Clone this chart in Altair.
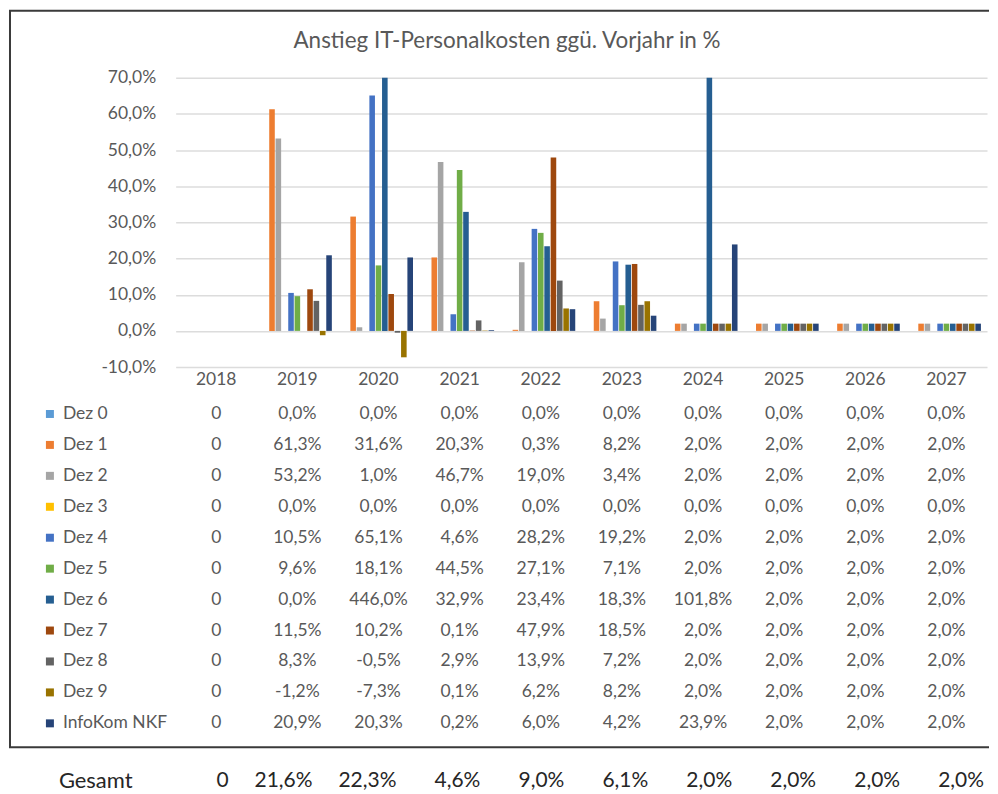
import altair as alt
import pandas as pd

FONT = "Lato"

years = ["2018", "2019", "2020", "2021", "2022", "2023", "2024", "2025", "2026", "2027"]
series = ["Dez 0", "Dez 1", "Dez 2", "Dez 3", "Dez 4", "Dez 5", "Dez 6",
          "Dez 7", "Dez 8", "Dez 9", "InfoKom NKF"]
colors = ["#5B9BD5", "#ED7D31", "#A5A5A5", "#FFC000", "#4472C4", "#70AD47",
          "#255E91", "#9E480E", "#636363", "#997300", "#264478"]

dez0 = [0, 0.0, 0.0, 0.0, 0.0, 0.0, 0.0, 0.0, 0.0, 0.0]
dez1 = [0, 61.3, 31.6, 20.3, 0.3, 8.2, 2.0, 2.0, 2.0, 2.0]
dez2 = [0, 53.2, 1.0, 46.7, 19.0, 3.4, 2.0, 2.0, 2.0, 2.0]
dez3 = [0, 0.0, 0.0, 0.0, 0.0, 0.0, 0.0, 0.0, 0.0, 0.0]
dez4 = [0, 10.5, 65.1, 4.6, 28.2, 19.2, 2.0, 2.0, 2.0, 2.0]
dez5 = [0, 9.6, 18.1, 44.5, 27.1, 7.1, 2.0, 2.0, 2.0, 2.0]
dez6 = [0, 0.0, 446.0, 32.9, 23.4, 18.3, 101.8, 2.0, 2.0, 2.0]
dez7 = [0, 11.5, 10.2, 0.1, 47.9, 18.5, 2.0, 2.0, 2.0, 2.0]
dez8 = [0, 8.3, -0.5, 2.9, 13.9, 7.2, 2.0, 2.0, 2.0, 2.0]
dez9 = [0, -1.2, -7.3, 0.1, 6.2, 8.2, 2.0, 2.0, 2.0, 2.0]
infokom = [0, 20.9, 20.3, 0.2, 6.0, 4.2, 23.9, 2.0, 2.0, 2.0]
gesamt = [0, 21.6, 22.3, 4.6, 9.0, 6.1, 2.0, 2.0, 2.0, 2.0]

y_ticks = [-10, 0, 10, 20, 30, 40, 50, 60, 70]
title_text = "Anstieg IT-Personalkosten ggü. Vorjahr in %"

all_values = [dez0, dez1, dez2, dez3, dez4, dez5, dez6, dez7, dez8, dez9, infokom]


def fmt(year, v):
    if year == "2018":
        return "0"
    return f"{v:.1f}".replace(".", ",") + "%"


rows = []
for s, vals in zip(series, all_values):
    for yr, v in zip(years, vals):
        rows.append({"year": yr, "series": s, "value": v, "label": fmt(yr, v)})
df = pd.DataFrame(rows)
series_df = pd.DataFrame({"series": series})
years_df = pd.DataFrame({"year": years})
gesamt_df = pd.DataFrame({"year": years, "label": [fmt(y, v) for y, v in zip(years, gesamt)]})
one = pd.DataFrame({"a": [0]})

W = 982
H = 742
TXT = "#595959"
FS = 17.5

x_scale = alt.Scale(domain=years, range=[167, 980], paddingInner=0.15, paddingOuter=0.075)
xoff_scale = alt.Scale(domain=series, paddingInner=0.12)
y_scale = alt.Scale(domain=[-10, 70], range=[359, 69], clamp=True, nice=False, zero=False)
row_scale = alt.Scale(type="point", domain=series, range=[406, 716], padding=0)
color = alt.Color("series:N", scale=alt.Scale(domain=series, range=colors), legend=None)

border_left = alt.Chart(one).mark_rule(color="#3a3a3a", strokeWidth=2).encode(
    x=alt.value(1), y=alt.value(2), y2=alt.value(740))
border_top = alt.Chart(one).mark_rule(color="#3a3a3a", strokeWidth=2).encode(
    x=alt.value(0), x2=alt.value(W), y=alt.value(2))
border_bottom = alt.Chart(one).mark_rule(color="#3a3a3a", strokeWidth=2).encode(
    x=alt.value(0), x2=alt.value(W), y=alt.value(740))

title = alt.Chart(one).mark_text(text=title_text, font=FONT, fontSize=22.5, color=TXT,
                                 baseline="middle").encode(x=alt.value(499), y=alt.value(32))

bars = alt.Chart(df).mark_bar().encode(
    x=alt.X("year:N", scale=x_scale, axis=None),
    xOffset=alt.XOffset("series:N", scale=xoff_scale),
    y=alt.Y("value:Q", scale=y_scale,
            axis=alt.Axis(values=y_ticks, title=None, offset=-147, ticks=False, tickSize=0,
                          domain=False, labelPadding=0, grid=True, gridColor="#dcdcdc",
                          gridWidth=1.5,
                          labelExpr="replace(replace(format(datum.value, '.1f'), '.', ','), '\u2212', '-') + '%'",
                          labelFont=FONT, labelFontSize=FS, labelColor=TXT)),
    color=color,
)

year_labels = alt.Chart(years_df).mark_text(font=FONT, fontSize=FS, color=TXT, baseline="middle").encode(
    x=alt.X("year:N", scale=x_scale, axis=None),
    y=alt.value(380 - 8),
    text="year:N",
)

table = alt.Chart(df).mark_text(font=FONT, fontSize=FS, color=TXT, baseline="middle").encode(
    x=alt.X("year:N", scale=x_scale, axis=None),
    y=alt.Y("series:N", scale=row_scale, axis=None),
    text="label:N",
)

row_labels = alt.Chart(series_df).mark_text(font=FONT, fontSize=FS, color=TXT, align="left",
                                            baseline="middle").encode(
    x=alt.value(54),
    y=alt.Y("series:N", scale=row_scale, axis=None),
    text="series:N",
)

squares = alt.Chart(series_df).mark_square(size=64, opacity=1).encode(
    x=alt.value(41),
    y=alt.Y("series:N", scale=row_scale, axis=None),
    color=color,
)

top_panel = alt.layer(
    bars, border_left, border_top, border_bottom, title, year_labels, table, row_labels, squares
).resolve_scale(y="independent").properties(width=W, height=H)

g_label = alt.Chart(one).mark_text(text="Gesamt", font=FONT, fontSize=22, color="#262626",
                                   align="left", baseline="middle").encode(
    x=alt.value(50), y=alt.value(32))
g_vals = alt.Chart(gesamt_df).mark_text(font=FONT, fontSize=21, color="#262626", align="right",
                                        baseline="middle").encode(
    x=alt.X("year:N", scale=alt.Scale(type="point", domain=years, range=[220, 977], padding=0),
            axis=None),
    y=alt.value(32),
    text="label:N",
)
bottom_panel = alt.layer(g_label, g_vals).properties(width=W, height=44)

chart = alt.vconcat(top_panel, bottom_panel, spacing=0).properties(padding=0).configure_view(stroke=None)

chart.save("out.html", embed_options={"renderer": "svg", "actions": False})
